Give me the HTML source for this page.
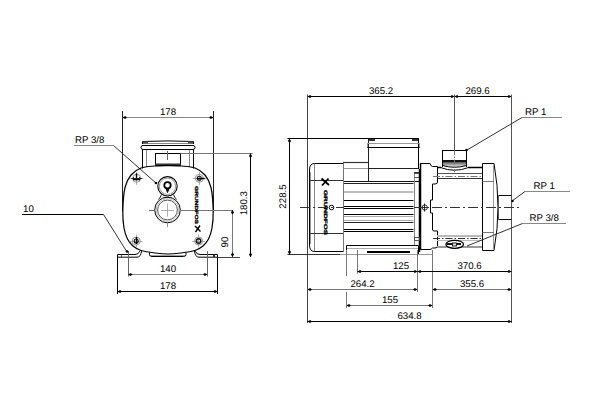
<!DOCTYPE html>
<html><head><meta charset="utf-8"><style>
html,body{margin:0;padding:0;background:#fff;width:600px;height:400px;overflow:hidden}
svg{display:block}
text{font-family:"Liberation Sans",sans-serif;text-rendering:geometricPrecision}
</style></head><body>
<svg width="600" height="400" viewBox="0 0 600 400">
<line x1="122.5" y1="117.5" x2="213.5" y2="117.5" stroke="#888" stroke-width="1" />
<polygon points="122.5,117.5 125.1,115.9 127.0,117.5 125.1,119.1" fill="#000"/>
<polygon points="213.5,117.5 210.9,115.9 209.0,117.5 210.9,119.1" fill="#000"/>
<text x="168" y="115" text-anchor="middle" font-size="9.7" fill="#000" >178</text>
<line x1="122.5" y1="111" x2="122.5" y2="211.5" stroke="#222" stroke-width="1" />
<line x1="213.5" y1="111" x2="213.5" y2="211.5" stroke="#222" stroke-width="1" />
<text x="75" y="143" text-anchor="start" font-size="9.7" fill="#000" >RP 3/8</text>
<line x1="74" y1="145.5" x2="113.5" y2="145.5" stroke="#888" stroke-width="1" />
<line x1="113.5" y1="145.5" x2="156.5" y2="183.5" stroke="#333" stroke-width="1" />
<circle cx="156" cy="183" r="1.3" fill="#000"/>
<path d="M142.5,144 V141.5 Q168,140.3 193.5,141.5 V144" stroke="#000" stroke-width="1" fill="none" />
<line x1="143" y1="143.5" x2="193" y2="143.5" stroke="#888" stroke-width="1" />
<path d="M143,145.5 H193 Q195,145.5 195,147.5 Q195,149.5 193,149.5 H143 Q141,149.5 141,147.5 Q141,145.5 143,145.5 Z" stroke="#000" stroke-width="1" fill="none" />
<line x1="142" y1="145.5" x2="194" y2="145.5" stroke="#000" stroke-width="1.2" />
<line x1="142.5" y1="149.5" x2="142.5" y2="168.5" stroke="#000" stroke-width="1" />
<line x1="193.5" y1="149.5" x2="193.5" y2="168.5" stroke="#000" stroke-width="1" />
<line x1="146.5" y1="150" x2="146.5" y2="167" stroke="#888" stroke-width="1" />
<line x1="189.5" y1="150" x2="189.5" y2="167" stroke="#888" stroke-width="1" />
<rect x="143" y="141.5" width="5" height="2" fill="#555"/>
<rect x="188" y="141.5" width="5" height="2" fill="#555"/>
<rect x="155.5" y="153.5" width="25" height="11" stroke="#000" stroke-width="1" fill="none" />
<rect x="155" y="163.5" width="26" height="2.5" fill="#333"/>
<line x1="167.5" y1="151" x2="167.5" y2="160" stroke="#666" stroke-width="1" />
<line x1="180.5" y1="153.5" x2="252.5" y2="153.5" stroke="#777" stroke-width="1" />
<path d="M168.00,165.50 C165.83,165.58 159.50,165.58 155.00,166.00 C150.50,166.42 145.00,166.50 141.00,168.00 C137.00,169.50 133.67,171.75 131.00,175.00 C128.33,178.25 126.37,181.50 125.00,187.50 C123.63,193.50 122.97,204.25 122.80,211.00 C122.63,217.75 123.22,223.33 124.00,228.00 C124.78,232.67 126.00,236.00 127.50,239.00 C129.00,242.00 130.75,244.08 133.00,246.00 C135.25,247.92 137.33,249.33 141.00,250.50 C144.67,251.67 150.50,252.42 155.00,253.00 C159.50,253.58 163.67,254.00 168.00,254.00 C172.33,254.00 176.50,253.58 181.00,253.00 C185.50,252.42 191.33,251.67 195.00,250.50 C198.67,249.33 200.75,247.92 203.00,246.00 C205.25,244.08 207.00,242.00 208.50,239.00 C210.00,236.00 211.22,232.67 212.00,228.00 C212.78,223.33 213.37,217.75 213.20,211.00 C213.03,204.25 212.37,193.50 211.00,187.50 C209.63,181.50 207.67,178.25 205.00,175.00 C202.33,171.75 199.00,169.50 195.00,168.00 C191.00,166.50 185.50,166.42 181.00,166.00 C176.50,165.58 170.17,165.58 168.00,165.50 C165.83,165.42 170.17,165.42 168.00,165.50 Z" stroke="#000" stroke-width="1.2" fill="none" />
<circle cx="167.5" cy="186.3" r="9.7" stroke="#000" stroke-width="1.1" fill="none"/>
<circle cx="167.5" cy="186.3" r="8.2" stroke="#888" stroke-width="0.9" fill="none"/>
<circle cx="167.5" cy="185.3" r="3.2" stroke="#000" stroke-width="1.8" fill="none"/>
<path d="M166,188.5 L167.5,192.5 L169,188.5 Z" stroke="#000" stroke-width="1" fill="#000" />
<path d="M161.5,194.5 Q160.5,197.5 158.5,199.5 M173.5,194.5 Q174.5,197.5 176.5,199.5" stroke="#000" stroke-width="0.9" fill="none" />
<line x1="163" y1="197.5" x2="172" y2="197.5" stroke="#999" stroke-width="0.8" />
<circle cx="167.5" cy="210" r="12.8" stroke="#000" stroke-width="1" fill="none"/>
<circle cx="167.5" cy="210" r="11.3" stroke="#aaa" stroke-width="0.7" fill="none"/>
<circle cx="167.5" cy="210" r="9.9" stroke="#444" stroke-width="0.9" fill="none"/>
<line x1="161" y1="210.5" x2="174" y2="210.5" stroke="#999" stroke-width="0.8" />
<line x1="167.5" y1="203.5" x2="167.5" y2="216.5" stroke="#999" stroke-width="0.8" />
<line x1="167.5" y1="222.5" x2="167.5" y2="227" stroke="#777" stroke-width="0.8" />
<line x1="149" y1="210.5" x2="155" y2="210.5" stroke="#666" stroke-width="1" />
<line x1="180" y1="210.5" x2="233" y2="210.5" stroke="#777" stroke-width="1" />
<circle cx="136.7" cy="178.3" r="4" stroke="#888" stroke-width="0.9" fill="none"/>
<line x1="130.2" y1="178.5" x2="143.2" y2="178.5" stroke="#999" stroke-width="0.8" />
<line x1="136.5" y1="171.8" x2="136.5" y2="184.8" stroke="#999" stroke-width="0.8" />
<line x1="136.5" y1="173.3" x2="136.5" y2="180.3" stroke="#000" stroke-width="1.4" />
<line x1="133.7" y1="179.5" x2="139.7" y2="179.5" stroke="#000" stroke-width="1.4" />
<line x1="133.5" y1="177.3" x2="133.5" y2="180.3" stroke="#000" stroke-width="1" />
<line x1="139.5" y1="177.3" x2="139.5" y2="180.3" stroke="#000" stroke-width="1" />
<line x1="131.2" y1="178.5" x2="142.2" y2="178.5" stroke="#222" stroke-width="1" />
<circle cx="199.3" cy="178.3" r="4" stroke="#888" stroke-width="0.9" fill="none"/>
<line x1="192.8" y1="178.5" x2="205.8" y2="178.5" stroke="#999" stroke-width="0.8" />
<line x1="199.5" y1="171.8" x2="199.5" y2="184.8" stroke="#999" stroke-width="0.8" />
<circle cx="199.3" cy="178.3" r="2" stroke="#111" stroke-width="1.1" fill="none"/>
<line x1="196.8" y1="178.5" x2="204.8" y2="178.5" stroke="#000" stroke-width="1.4" />
<circle cx="136.2" cy="241" r="4" stroke="#888" stroke-width="0.9" fill="none"/>
<line x1="129.7" y1="241.5" x2="142.7" y2="241.5" stroke="#999" stroke-width="0.8" />
<line x1="136.5" y1="234.5" x2="136.5" y2="247.5" stroke="#999" stroke-width="0.8" />
<circle cx="136.2" cy="241" r="2" stroke="#111" stroke-width="1.1" fill="none"/>
<line x1="136.5" y1="237" x2="136.5" y2="244" stroke="#000" stroke-width="1.4" />
<circle cx="198.6" cy="241" r="4" stroke="#888" stroke-width="0.9" fill="none"/>
<line x1="192.1" y1="241.5" x2="205.1" y2="241.5" stroke="#999" stroke-width="0.8" />
<line x1="198.5" y1="234.5" x2="198.5" y2="247.5" stroke="#999" stroke-width="0.8" />
<circle cx="198.6" cy="241" r="2.2" stroke="#111" stroke-width="1.4" fill="none"/>
<text x="196" y="186" text-anchor="start" font-size="4.5" fill="#000" transform="rotate(90 196 186)" font-weight="bold" textLength="38" lengthAdjust="spacingAndGlyphs" dominant-baseline="middle" stroke="#000" stroke-width="0.3">GRUNDFOS</text>
<path d="M195,226 L200.5,231.5 M200,225.5 L195.5,232" stroke="#000" stroke-width="1.4" fill="none" />
<path d="M117.5,257.5 V254.5 H135 Q138.5,254.5 139.5,251.5 L140.5,250.5" stroke="#000" stroke-width="1" fill="none" />
<path d="M117.5,257.2 H137 Q141,257 141.5,251" stroke="#000" stroke-width="1" fill="none" />
<path d="M217.5,257.5 V254.5 H200 Q196.5,254.5 195.5,251.5 L194.5,250.5" stroke="#000" stroke-width="1" fill="none" />
<path d="M217.5,257.2 H199 Q195,257 194.5,251" stroke="#000" stroke-width="1" fill="none" />
<line x1="121.5" y1="254.5" x2="121.5" y2="257" stroke="#555" stroke-width="1" />
<line x1="214" y1="254.5" x2="214" y2="257" stroke="#333" stroke-width="2" />
<line x1="217.5" y1="257.5" x2="240" y2="257.5" stroke="#444" stroke-width="1" />
<path d="M149.5,252.5 V254.5 Q149.5,256.5 152,256.5 H183.5 Q186,256.5 186,254.5 V252.5" stroke="#000" stroke-width="1" fill="none" />
<line x1="151" y1="255.5" x2="185" y2="255.5" stroke="#888" stroke-width="0.8" />
<line x1="117.5" y1="257" x2="117.5" y2="294" stroke="#000" stroke-width="1" />
<line x1="217.5" y1="257" x2="217.5" y2="294" stroke="#000" stroke-width="1" />
<line x1="128.5" y1="251" x2="128.5" y2="276.5" stroke="#666" stroke-width="1" />
<line x1="207.5" y1="251" x2="207.5" y2="276.5" stroke="#666" stroke-width="1" />
<line x1="128" y1="274.5" x2="207.5" y2="274.5" stroke="#888" stroke-width="1" />
<polygon points="128,274.5 130.6,272.9 132.5,274.5 130.6,276.1" fill="#000"/>
<polygon points="207.5,274.5 204.9,272.9 203.0,274.5 204.9,276.1" fill="#000"/>
<text x="168" y="271.5" text-anchor="middle" font-size="9.7" fill="#000" >140</text>
<line x1="117.5" y1="291.5" x2="217.5" y2="291.5" stroke="#000" stroke-width="1" />
<polygon points="117.5,291.5 120.1,289.9 122.0,291.5 120.1,293.1" fill="#000"/>
<polygon points="217.5,291.5 214.9,289.9 213.0,291.5 214.9,293.1" fill="#000"/>
<text x="168" y="288.5" text-anchor="middle" font-size="9.7" fill="#000" >178</text>
<text x="23" y="212" text-anchor="start" font-size="9.7" fill="#000" >10</text>
<line x1="22" y1="214.5" x2="103.5" y2="214.5" stroke="#000" stroke-width="1" />
<line x1="103.5" y1="214.5" x2="127" y2="252" stroke="#333" stroke-width="1" />
<circle cx="127" cy="251.5" r="1.3" fill="#000"/>
<line x1="232.5" y1="210" x2="232.5" y2="257" stroke="#777" stroke-width="1" />
<polygon points="232.5,210 230.9,212.6 232.5,214.5 234.1,212.6" fill="#000"/>
<polygon points="232.5,257 230.9,254.4 232.5,252.5 234.1,254.4" fill="#000"/>
<text x="228.0" y="242.0" text-anchor="middle" font-size="9.7" fill="#000" transform="rotate(-90 228.0 242.0)" >90</text>
<line x1="250.5" y1="153.5" x2="250.5" y2="257" stroke="#000" stroke-width="1" />
<polygon points="250.5,153.5 248.9,156.1 250.5,158.0 252.1,156.1" fill="#000"/>
<polygon points="250.5,257 248.9,254.4 250.5,252.5 252.1,254.4" fill="#000"/>
<text x="247.0" y="203.2" text-anchor="middle" font-size="9.7" fill="#000" transform="rotate(-90 247.0 203.2)" >180.3</text>
<line x1="307.5" y1="96.5" x2="454.5" y2="96.5" stroke="#000" stroke-width="1" />
<polygon points="307.5,96.5 310.1,94.9 312.0,96.5 310.1,98.1" fill="#000"/>
<polygon points="454.5,96.5 451.9,94.9 450.0,96.5 451.9,98.1" fill="#000"/>
<text x="381" y="94" text-anchor="middle" font-size="9.7" fill="#000" >365.2</text>
<line x1="454.5" y1="96.5" x2="511.5" y2="96.5" stroke="#000" stroke-width="1" />
<polygon points="454.5,96.5 457.1,94.9 459.0,96.5 457.1,98.1" fill="#000"/>
<polygon points="511.5,96.5 508.9,94.9 507.0,96.5 508.9,98.1" fill="#000"/>
<text x="477.5" y="94" text-anchor="middle" font-size="9.7" fill="#000" >269.6</text>
<line x1="307.5" y1="94.5" x2="307.5" y2="323" stroke="#444" stroke-width="1" />
<line x1="454.5" y1="94.5" x2="454.5" y2="150" stroke="#555" stroke-width="1" />
<line x1="511.5" y1="94.5" x2="511.5" y2="323" stroke="#555" stroke-width="1" />
<line x1="287.5" y1="138.5" x2="419" y2="138.5" stroke="#000" stroke-width="1" />
<line x1="287.5" y1="254.5" x2="348" y2="254.5" stroke="#333" stroke-width="1" />
<line x1="289.5" y1="138.5" x2="289.5" y2="254.5" stroke="#000" stroke-width="1" />
<polygon points="289.5,138.5 287.9,141.1 289.5,143.0 291.1,141.1" fill="#000"/>
<polygon points="289.5,254.5 287.9,251.9 289.5,250.0 291.1,251.9" fill="#000"/>
<text x="285.5" y="196.5" text-anchor="middle" font-size="9.7" fill="#000" transform="rotate(-90 285.5 196.5)" >228.5</text>
<path d="M343.5,163.5 H314.5 Q309.5,163.5 309.5,170 V245 Q309.5,251.5 314.5,251.5 H343.5" stroke="#000" stroke-width="1" fill="none" />
<line x1="310.5" y1="172" x2="310.5" y2="244" stroke="#999" stroke-width="1" />
<line x1="314.5" y1="164" x2="314.5" y2="251" stroke="#888" stroke-width="1" />
<line x1="309.5" y1="180.5" x2="343.5" y2="180.5" stroke="#333" stroke-width="1" />
<line x1="309.5" y1="233.5" x2="343.5" y2="233.5" stroke="#333" stroke-width="1" />
<line x1="343.5" y1="163" x2="343.5" y2="252" stroke="#777" stroke-width="1" />
<text x="325" y="190" text-anchor="start" font-size="4.8" fill="#000" transform="rotate(90 325 190)" font-weight="bold" textLength="45" lengthAdjust="spacingAndGlyphs" dominant-baseline="middle" stroke="#000" stroke-width="0.3">GRUNDFOS</text>
<path d="M321.5,178.5 L329,185 M328.5,178.5 L322,185.5" stroke="#000" stroke-width="1.8" fill="none" />
<circle cx="331.5" cy="207.5" r="2.3" stroke="#000" stroke-width="1" fill="none"/>
<line x1="343" y1="162.5" x2="368.5" y2="162.5" stroke="#333" stroke-width="1.2" />
<line x1="343.5" y1="168.5" x2="368" y2="168.5" stroke="#999" stroke-width="1" />
<line x1="368" y1="168.5" x2="419" y2="168.5" stroke="#222" stroke-width="1" />
<line x1="343.5" y1="181.5" x2="419" y2="181.5" stroke="#111" stroke-width="1" />
<line x1="368.5" y1="138.5" x2="368.5" y2="181" stroke="#222" stroke-width="1" />
<line x1="418.5" y1="138.5" x2="418.5" y2="169" stroke="#000" stroke-width="1" />
<rect x="367.5" y="143.5" width="52" height="4" stroke="#999" stroke-width="1" fill="none" />
<line x1="367.5" y1="147.5" x2="419.5" y2="147.5" stroke="#000" stroke-width="1" />
<rect x="369" y="139" width="6" height="2" fill="#333"/>
<rect x="412" y="139" width="6" height="2" fill="#333"/>
<line x1="344" y1="183.5" x2="413.5" y2="183.5" stroke="#222" stroke-width="1" />
<line x1="344" y1="192" x2="413.5" y2="192" stroke="#bbb" stroke-width="2" />
<line x1="344" y1="200.5" x2="413.5" y2="200.5" stroke="#000" stroke-width="1" />
<line x1="344" y1="206.5" x2="413.5" y2="206.5" stroke="#000" stroke-width="1" />
<line x1="344" y1="208.5" x2="413.5" y2="208.5" stroke="#000" stroke-width="1" />
<line x1="344" y1="214.5" x2="413.5" y2="214.5" stroke="#000" stroke-width="1" />
<line x1="344" y1="216.5" x2="413.5" y2="216.5" stroke="#aaa" stroke-width="1" />
<line x1="344" y1="220.5" x2="413.5" y2="220.5" stroke="#aaa" stroke-width="1" />
<line x1="344" y1="222.5" x2="413.5" y2="222.5" stroke="#222" stroke-width="1" />
<line x1="344" y1="229.5" x2="413.5" y2="229.5" stroke="#000" stroke-width="1" />
<line x1="344" y1="231.5" x2="413.5" y2="231.5" stroke="#000" stroke-width="1" />
<line x1="343.5" y1="181" x2="343.5" y2="245" stroke="#777" stroke-width="1" />
<line x1="414.5" y1="172" x2="414.5" y2="245" stroke="#888" stroke-width="1" />
<line x1="419.5" y1="169" x2="419.5" y2="252" stroke="#000" stroke-width="1.5" />
<line x1="414" y1="173.5" x2="419" y2="173.5" stroke="#555" stroke-width="1" />
<line x1="414" y1="177.5" x2="419" y2="177.5" stroke="#555" stroke-width="1" />
<line x1="414" y1="172.5" x2="419" y2="172.5" stroke="#333" stroke-width="1" />
<rect x="414.5" y="237.5" width="5" height="3" stroke="#555" stroke-width="1" fill="none" />
<path d="M346.5,254 V245.5 H418.5 V254" stroke="#000" stroke-width="1" fill="none" />
<line x1="347" y1="248.5" x2="418" y2="248.5" stroke="#aaa" stroke-width="1" />
<rect x="367" y="251" width="43" height="2" fill="#000"/>
<line x1="340" y1="254.5" x2="432.5" y2="254.5" stroke="#999" stroke-width="1" />
<path d="M420.5,163.5 H430 Q431,166.5 432.5,166.5 H437.5 V182 Q437.5,184 435,184 H432.5 V200 H430.5 V213 H432.5 V230 Q432.5,231 435,231 H437.5 V246 Q437.5,248 435,248 H432.5 Q431,249.5 430,249.5 H420.5 Z" stroke="#000" stroke-width="1" fill="none" />
<line x1="420.5" y1="163.5" x2="420.5" y2="249.5" stroke="#000" stroke-width="1.5" />
<circle cx="424.7" cy="207.5" r="2.6" stroke="#000" stroke-width="0.8" fill="none"/>
<line x1="421" y1="207.5" x2="428.5" y2="207.5" stroke="#000" stroke-width="0.8" />
<line x1="424.5" y1="203.5" x2="424.5" y2="211.5" stroke="#000" stroke-width="0.8" />
<line x1="437.5" y1="167.5" x2="441" y2="167.5" stroke="#000" stroke-width="1.5" />
<line x1="468" y1="167.5" x2="482.5" y2="167.5" stroke="#000" stroke-width="1.5" />
<line x1="437.5" y1="173.5" x2="482.5" y2="173.5" stroke="#555" stroke-width="1" />
<line x1="437.5" y1="178.5" x2="482.5" y2="178.5" stroke="#333" stroke-width="1" />
<line x1="433" y1="176.5" x2="482" y2="176.5" stroke="#777" stroke-width="1" stroke-dasharray="7,2,1.5,2"/>
<line x1="437" y1="247" x2="482.5" y2="247" stroke="#999" stroke-width="2" />
<line x1="437" y1="236" x2="482.5" y2="236" stroke="#bbb" stroke-width="2" />
<line x1="437" y1="240.5" x2="482.5" y2="240.5" stroke="#bbb" stroke-width="1" />
<line x1="433" y1="238.5" x2="482" y2="238.5" stroke="#333" stroke-width="1" stroke-dasharray="7,2,1.5,2"/>
<defs><linearGradient id="pg" x1="0" y1="0" x2="0" y2="1"><stop offset="0" stop-color="#444"/><stop offset="1" stop-color="#fff"/></linearGradient></defs>
<path d="M442.5,161.5 H466.5 V165.5 Q454.5,169 442.5,165.5 Z" fill="url(#pg)" stroke="none"/>
<rect x="442.5" y="150.5" width="24" height="11" stroke="#000" stroke-width="1" fill="none" />
<rect x="442.5" y="160" width="24.5" height="2" fill="#111"/>
<path d="M442.5,165.5 Q454.5,169 466.5,165.5" stroke="#000" stroke-width="1" fill="none" />
<path d="M440.5,167.5 Q454.5,173 468.5,167.5" stroke="#000" stroke-width="1" fill="none" />
<line x1="442.5" y1="161" x2="442.5" y2="167" stroke="#000" stroke-width="1" />
<line x1="466.5" y1="161" x2="466.5" y2="167" stroke="#000" stroke-width="1" />
<line x1="454.5" y1="150" x2="454.5" y2="172" stroke="#777" stroke-width="1" stroke-dasharray="5,1.5,1.5,1.5"/>
<text x="525" y="115" text-anchor="start" font-size="9.7" fill="#000" >RP 1</text>
<line x1="522" y1="117.5" x2="562" y2="117.5" stroke="#888" stroke-width="1" />
<line x1="522" y1="117.5" x2="467" y2="150" stroke="#333" stroke-width="1" />
<circle cx="466.5" cy="150" r="1.3" fill="#000"/>
<path d="M482.5,163.5 H494 Q502,207 494,250.5 H482.5 Z" stroke="#000" stroke-width="1" fill="none" />
<line x1="493.5" y1="164" x2="493.5" y2="250" stroke="#999" stroke-width="1" />
<line x1="482.5" y1="181.5" x2="494" y2="181.5" stroke="#777" stroke-width="1" />
<line x1="482.5" y1="232.5" x2="494" y2="232.5" stroke="#777" stroke-width="1" />
<path d="M498.5,195.5 H511.5 M498.5,219.5 H511.5" stroke="#000" stroke-width="1" fill="none" />
<line x1="498.5" y1="195.5" x2="498.5" y2="219.5" stroke="#555" stroke-width="1" />
<line x1="300" y1="207.5" x2="344" y2="207.5" stroke="#333" stroke-width="1" stroke-dasharray="10,3,2,3"/>
<line x1="414" y1="207.5" x2="520" y2="207.5" stroke="#333" stroke-width="1" stroke-dasharray="10,3,2,3"/>
<ellipse cx="454.7" cy="244.3" rx="8.8" ry="4" stroke="#000" stroke-width="1.3" fill="#fff"/>
<line x1="447" y1="244" x2="461" y2="244" stroke="#111" stroke-width="2" />
<rect x="452" y="242.5" width="5" height="4" fill="#222"/>
<rect x="453" y="243.5" width="3" height="2" fill="#ddd"/>
<text x="533.5" y="189" text-anchor="start" font-size="9.7" fill="#000" >RP 1</text>
<line x1="525" y1="191.5" x2="570" y2="191.5" stroke="#888" stroke-width="1" />
<line x1="525" y1="191.5" x2="512" y2="201" stroke="#333" stroke-width="1" />
<circle cx="512.5" cy="201" r="1.2" fill="#000"/>
<text x="529.5" y="221" text-anchor="start" font-size="9.7" fill="#000" >RP 3/8</text>
<line x1="522.5" y1="223.5" x2="566" y2="223.5" stroke="#888" stroke-width="1" />
<line x1="522.5" y1="223.5" x2="467" y2="246" stroke="#333" stroke-width="1" />
<line x1="346.5" y1="250" x2="346.5" y2="276" stroke="#777" stroke-width="1" />
<line x1="346.5" y1="292" x2="346.5" y2="308" stroke="#777" stroke-width="1" />
<line x1="357.5" y1="250" x2="357.5" y2="273.5" stroke="#777" stroke-width="1" />
<line x1="417.5" y1="250" x2="417.5" y2="292" stroke="#777" stroke-width="1" />
<line x1="432.5" y1="250" x2="432.5" y2="308" stroke="#777" stroke-width="1" />
<line x1="357.5" y1="271.5" x2="417.5" y2="271.5" stroke="#000" stroke-width="1" />
<polygon points="357.5,271.5 360.1,269.9 362.0,271.5 360.1,273.1" fill="#000"/>
<polygon points="417.5,271.5 414.9,269.9 413.0,271.5 414.9,273.1" fill="#000"/>
<text x="401" y="268.5" text-anchor="middle" font-size="9.7" fill="#000" >125</text>
<line x1="417.5" y1="271.5" x2="511.5" y2="271.5" stroke="#000" stroke-width="1" />
<polygon points="417.5,271.5 420.1,269.9 422.0,271.5 420.1,273.1" fill="#000"/>
<polygon points="511.5,271.5 508.9,269.9 507.0,271.5 508.9,273.1" fill="#000"/>
<text x="469.5" y="268.5" text-anchor="middle" font-size="9.7" fill="#000" >370.6</text>
<line x1="307.5" y1="289.5" x2="417.5" y2="289.5" stroke="#777" stroke-width="1" />
<polygon points="307.5,289.5 310.1,287.9 312.0,289.5 310.1,291.1" fill="#000"/>
<polygon points="417.5,289.5 414.9,287.9 413.0,289.5 414.9,291.1" fill="#000"/>
<text x="362.5" y="287" text-anchor="middle" font-size="9.7" fill="#000" >264.2</text>
<line x1="432.5" y1="289.5" x2="511.5" y2="289.5" stroke="#777" stroke-width="1" />
<polygon points="432.5,289.5 435.1,287.9 437.0,289.5 435.1,291.1" fill="#000"/>
<polygon points="511.5,289.5 508.9,287.9 507.0,289.5 508.9,291.1" fill="#000"/>
<text x="472" y="287" text-anchor="middle" font-size="9.7" fill="#000" >355.6</text>
<line x1="346.5" y1="305.5" x2="432.5" y2="305.5" stroke="#777" stroke-width="1" />
<polygon points="346.5,305.5 349.1,303.9 351.0,305.5 349.1,307.1" fill="#000"/>
<polygon points="432.5,305.5 429.9,303.9 428.0,305.5 429.9,307.1" fill="#000"/>
<text x="390" y="302.5" text-anchor="middle" font-size="9.7" fill="#000" >155</text>
<line x1="307.5" y1="321.5" x2="511.5" y2="321.5" stroke="#000" stroke-width="1" />
<polygon points="307.5,321.5 310.1,319.9 312.0,321.5 310.1,323.1" fill="#000"/>
<polygon points="511.5,321.5 508.9,319.9 507.0,321.5 508.9,323.1" fill="#000"/>
<text x="409.5" y="318.5" text-anchor="middle" font-size="9.7" fill="#000" >634.8</text>
</svg>
</body></html>
